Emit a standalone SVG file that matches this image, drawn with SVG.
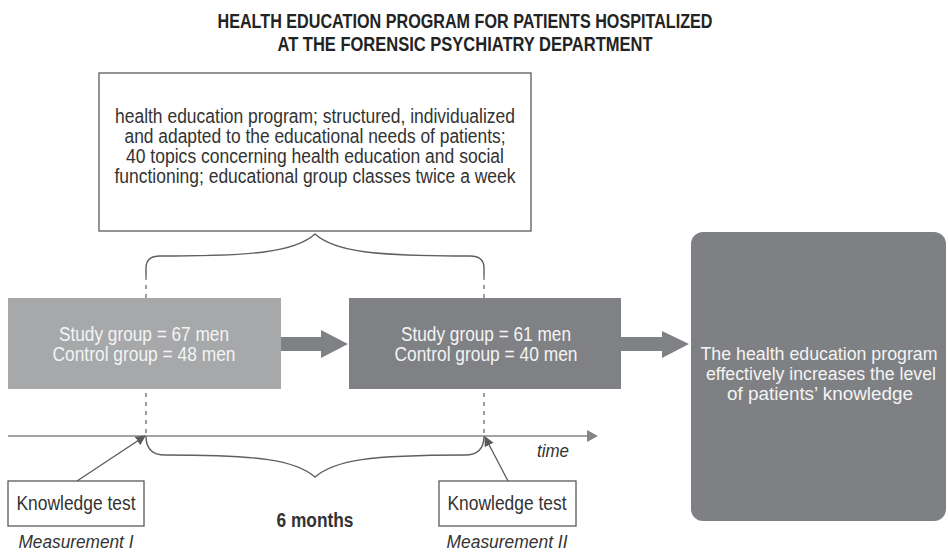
<svg xmlns="http://www.w3.org/2000/svg" width="948" height="553" viewBox="0 0 948 553">
  <style>
    text { font-family: "Liberation Sans", Arial, sans-serif; }
    .title { font-size: 21px; font-weight: bold; fill: #232323; text-anchor: middle; }
    .body { font-size: 20px; fill: #333333; text-anchor: middle; }
    .inv { font-size: 20px; fill: #f4f4f4; text-anchor: middle; }
    .big { font-size: 18px; fill: #f4f4f4; text-anchor: middle; }
    .ital { font-size: 19px; font-style: italic; fill: #333333; text-anchor: middle; }
    .bold { font-size: 20px; font-weight: bold; fill: #333333; text-anchor: middle; }
    .outline { fill: #ffffff; stroke: #5a5a5a; stroke-width: 1.3; }
    .brace { fill: none; stroke: #5f5f5f; stroke-width: 1.4; }
    .dash { fill: none; stroke: #6a6a6a; stroke-width: 1.3; stroke-dasharray: 4 5; }
    .axis { fill: none; stroke: #858585; stroke-width: 1.5; }
    .pointer { fill: none; stroke: #5a5a5a; stroke-width: 1.3; marker-end: url(#tip); }
    .fat { fill: #808184; }
  </style>
  <defs>
    <marker id="tip" viewBox="0 0 10 10" refX="9" refY="5" markerWidth="10" markerHeight="10" markerUnits="userSpaceOnUse" orient="auto">
      <path d="M0,0 L10,5 L0,10 Z" fill="#5a5a5a"/>
    </marker>
  </defs>

  <g id="title">
    <text class="title" x="465" y="28" textLength="495" lengthAdjust="spacingAndGlyphs">HEALTH EDUCATION PROGRAM FOR PATIENTS HOSPITALIZED</text>
    <text class="title" x="465" y="51" textLength="375" lengthAdjust="spacingAndGlyphs">AT THE FORENSIC PSYCHIATRY DEPARTMENT</text>
  </g>

  <g id="connectors">
    <!-- period markers -->
    <path class="dash" d="M146,276 V436"/>
    <path class="dash" d="M484,276 V436"/>
    <!-- upper brace -->
    <path class="brace" d="M146,276 V268 Q146,256 160,256 C255,256 295,252 315,234 C335,252 375,256 470,256 Q484,256 484,268 V276"/>
    <!-- lower brace -->
    <path class="brace" d="M146,436 Q146,455 165,455 C260,455 295,460 315,477 C335,460 370,455 465,455 Q484,455 484,436"/>
    <!-- time axis -->
    <path class="axis" d="M8,436 H588"/>
    <path d="M587,430 L598,436 L587,442 Z" fill="#858585"/>
    <!-- measurement pointers -->
    <path class="pointer" d="M77,481 L145,436"/>
    <path class="pointer" d="M508,481 L485,437"/>
    <!-- block arrows -->
    <path class="fat" d="M281,337 H321 V330 L348,344 L321,358 V351 H281 Z"/>
    <path class="fat" d="M621,337 H662 V331 L689,344 L662,358 V351 H621 Z"/>
  </g>

  <g id="program">
    <rect class="outline" x="99" y="73" width="432" height="158"/>
    <text class="body" x="315" y="123" textLength="400" lengthAdjust="spacingAndGlyphs">health education program; structured, individualized</text>
    <text class="body" x="315" y="143" textLength="381" lengthAdjust="spacingAndGlyphs">and adapted to the educational needs of patients;</text>
    <text class="body" x="315" y="163" textLength="378" lengthAdjust="spacingAndGlyphs">40 topics concerning health education and social</text>
    <text class="body" x="315" y="183" textLength="401" lengthAdjust="spacingAndGlyphs">functioning; educational group classes twice a week</text>
  </g>

  <g id="before">
    <rect x="8" y="298" width="273" height="91" fill="#a7a8aa"/>
    <text class="inv" x="144" y="341" textLength="170" lengthAdjust="spacingAndGlyphs">Study group = 67 men</text>
    <text class="inv" x="144" y="361" textLength="183" lengthAdjust="spacingAndGlyphs">Control group = 48 men</text>
  </g>

  <g id="after">
    <rect x="349" y="298" width="272" height="91" fill="#808184"/>
    <text class="inv" x="486" y="341" textLength="170" lengthAdjust="spacingAndGlyphs">Study group = 61 men</text>
    <text class="inv" x="486" y="361" textLength="183" lengthAdjust="spacingAndGlyphs">Control group = 40 men</text>
  </g>

  <g id="outcome">
    <rect x="691" y="232" width="255" height="289" rx="12" ry="12" fill="#7f8083"/>
    <text class="big" x="819" y="360" textLength="237" lengthAdjust="spacingAndGlyphs">The health education program</text>
    <text class="big" x="821" y="380" textLength="230" lengthAdjust="spacingAndGlyphs">effectively increases the level</text>
    <text class="big" x="820" y="400" textLength="186" lengthAdjust="spacingAndGlyphs">of patients’ knowledge</text>
  </g>

  <g id="test1">
    <rect class="outline" x="8" y="481" width="136" height="45"/>
    <text class="body" x="76" y="510" font-size="19" textLength="119" lengthAdjust="spacingAndGlyphs">Knowledge test</text>
    <text class="ital" x="76" y="548" textLength="115" lengthAdjust="spacingAndGlyphs">Measurement I</text>
  </g>

  <g id="test2">
    <rect class="outline" x="439" y="481" width="137" height="45"/>
    <text class="body" x="507" y="510" font-size="19" textLength="119" lengthAdjust="spacingAndGlyphs">Knowledge test</text>
    <text class="ital" x="507" y="548" textLength="121" lengthAdjust="spacingAndGlyphs">Measurement II</text>
  </g>

  <g id="labels">
    <text class="ital" x="553" y="457" font-size="18" textLength="32" lengthAdjust="spacingAndGlyphs">time</text>
    <text class="bold" x="315" y="527" textLength="77" lengthAdjust="spacingAndGlyphs">6 months</text>
  </g>
</svg>
